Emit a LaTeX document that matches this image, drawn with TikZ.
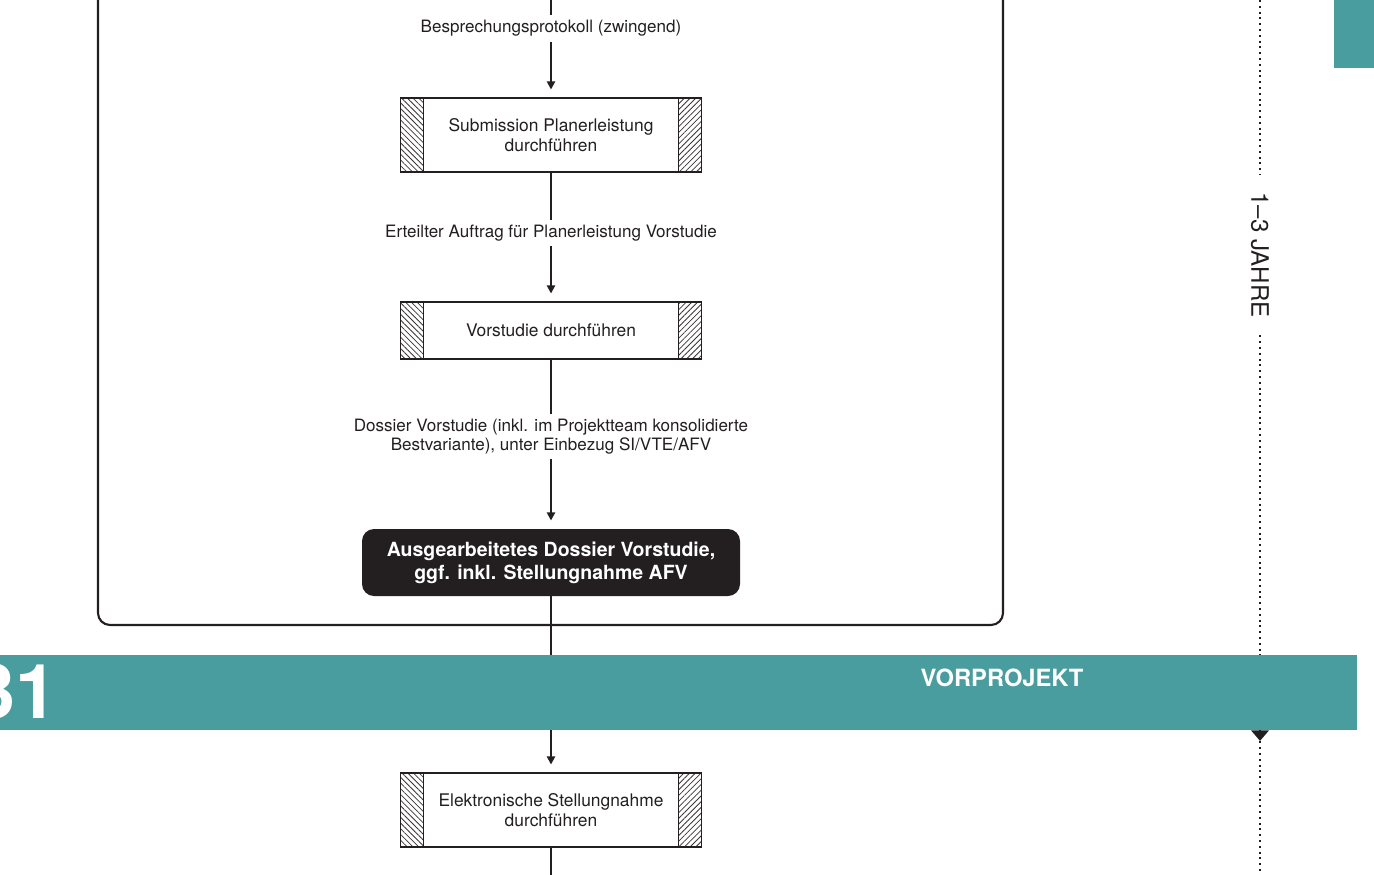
\documentclass[tikz,border=0pt]{standalone}
\usepackage{fontspec}
\setmainfont{TeX Gyre Heros}
\setsansfont{TeX Gyre Heros}
\usepackage{xcolor}
\definecolor{vpDark}{HTML}{231F20}
\definecolor{vpTeal}{HTML}{4A9D9E}
\definecolor{vpHatch}{HTML}{3A3637}
\usepackage{tikz}
\usetikzlibrary{arrows.meta,positioning,patterns.meta,calc}
\tikzset{
    task/.style={
        draw=vpDark,
        fill=white,
        rectangle,
        line width=1pt,
        outer sep=0pt,
        align=center,
        minimum height=1.48cm,
        minimum width=6.02cm,
        text=vpDark,
        font=\fontsize{9.9}{11.3}\selectfont\sffamily,
        path picture={
            \fill[pattern={Lines[angle=-45,distance=2.3pt,line width=.45pt]}, pattern color=vpHatch]
                (path picture bounding box.north west) rectangle ([xshift=.46cm]path picture bounding box.south west);
            \fill[pattern={Lines[angle=45,distance=2.3pt,line width=.45pt]}, pattern color=vpHatch]
                ([xshift=-.46cm]path picture bounding box.north east) rectangle (path picture bounding box.south east);
            \draw[vpDark, line width=1pt]
                ([xshift=.46cm]path picture bounding box.north west) -- ([xshift=.46cm]path picture bounding box.south west)
                ([xshift=-.46cm]path picture bounding box.north east) -- ([xshift=-.46cm]path picture bounding box.south east);
        }
    },
    result/.style={
        fill=vpDark,
        rectangle,
        rounded corners=2.4mm,
        outer sep=0pt,
        align=center,
        minimum height=1.34cm,
        minimum width=7.56cm,
        text=white,
        font=\fontsize{11.1}{13}\selectfont\bfseries\sffamily
    },
    phase/.style={
        fill=vpTeal,
        rectangle,
        inner sep=0pt,
        minimum height=1.5cm,
        minimum width=27.14cm
    },
    phasetitle/.style={
        text=white,
        font=\fontsize{13.5}{15}\selectfont\bfseries\sffamily
    },
    phasenumber/.style={
        text=white,
        inner sep=0pt,
        font=\fontsize{43}{45}\selectfont\bfseries\sffamily
    },
    arrow/.style={
        -{Triangle[length=4.6pt,width=4.6pt]},
        line width=1.1pt,
        shorten >=0.17cm,
        color=vpDark
    },
    flow/.style={
        line width=1.1pt,
        color=vpDark
    },
    frame/.style={
        draw=vpDark,
        line width=1.2pt,
        rounded corners=2.4mm
    },
    label/.style={
        font=\fontsize{9.7}{10.8}\selectfont\sffamily,
        text=vpDark,
        fill=white,
        align=center,
        inner sep=3pt
    },
    timeline/.style={
        line width=1.1pt,
        dash pattern=on 1.1pt off 2.2pt,
        color=vpDark
    },
    duration/.style={
        rotate=-90,
        inner xsep=10pt,
        text=vpDark,
        font=\fontsize{13.7}{15}\selectfont\sffamily
    }
}

\begin{document}
\begin{tikzpicture}
    \useasboundingbox (0,0) rectangle (27.48,-17.48);
    \clip (0,0) rectangle (27.48,-17.48);

    % Frame of the preliminary study
    \draw[frame] (1.96,0.5) rectangle (20.06,-12.5);

    % Tasks
    \coordinate (flowtop) at (11.02,0);
    \node[task] (submission) at (11.02,-2.70) {Submission Planerleistung\\durchführen};
    \node[task, below=2.6cm of submission, minimum height=1.14cm] (vorstudie) {Vorstudie durchführen};
    \node[result, below=3.4cm of vorstudie] (dossier) {Ausgearbeitetes Dossier Vorstudie,\\ggf. inkl. Stellungnahme AFV};
    \node[task, below=3.54cm of dossier] (stellungnahme) {Elektronische Stellungnahme\\durchführen};
    \coordinate (flowend) at (11.02,-17.6);

    % Connections
    \draw[arrow] (flowtop) -- (submission)
        node[label, pos=0.29] {Besprechungsprotokoll (zwingend)};
    \draw[arrow] (submission) -- (vorstudie)
        node[label, pos=0.47] {Erteilter Auftrag für Planerleistung Vorstudie};
    \draw[arrow] (vorstudie) -- (dossier)
        node[label, pos=0.455] {Dossier Vorstudie (inkl. im Projektteam konsolidierte\\Bestvariante), unter Einbezug SI/VTE/AFV};
    \draw[arrow] (dossier) -- (stellungnahme);
    \draw[flow] (stellungnahme) -- (flowend);

    % Timeline
    \coordinate (tltop) at (25.2,0);
    \node[duration] (duration) at (25.2,-5.1) {1–3 JAHRE};
    \coordinate (tlbottom) at (25.2,-17.6);
    \draw[timeline] (tltop) -- (duration);
    \draw[timeline] (duration) -- (tlbottom);

    % Phase band
    \node[phase] (phase) at (13.57,-13.85) {};
    \node[phasetitle] (phasename) at (20.04,-13.56) {VORPROJEKT};
    \node[phasenumber, anchor=east] (phaseno) at (1.16,-13.82) {31};
    \fill[vpTeal] (26.68,0) rectangle (27.48,-1.36);
    \coordinate (tlarrow) at (duration |- phase.south);
    \fill[vpDark] ([xshift=-0.18cm]tlarrow) -- ([xshift=0.18cm]tlarrow) -- ([yshift=-0.21cm]tlarrow) -- cycle;
\end{tikzpicture}
\end{document}
